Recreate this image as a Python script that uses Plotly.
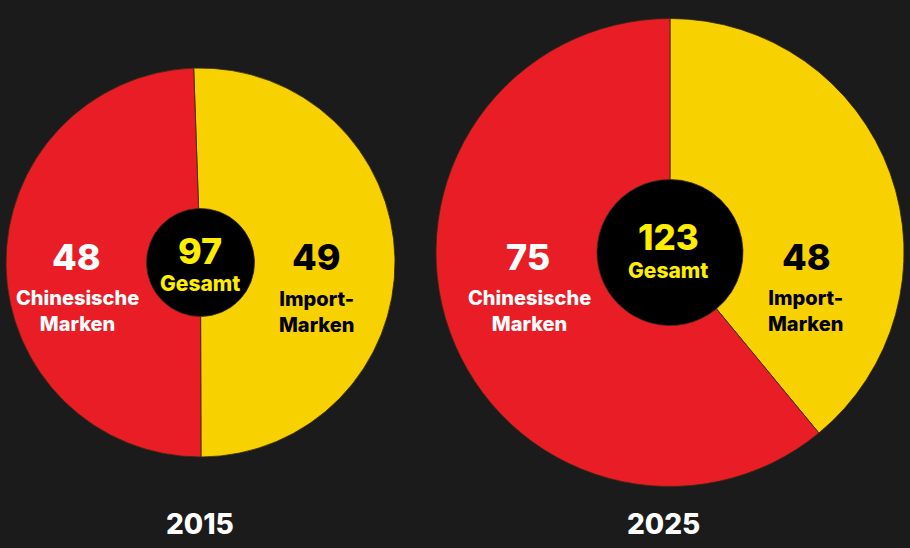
import plotly.graph_objects as go

W, H = 910, 548
BG = "#1b1b1b"
RED = "#E81D25"
YELLOW = "#F8D200"
BRIGHT = "#FFEE00"

# Data
years = ["2015", "2025"]
segment_labels = ["Import-Marken", "Chinesische Marken"]
import_brands = [49, 48]
chinese_brands = [48, 75]
totals = [97, 123]

# Layout geometry (pixels): pie centre, radius, hole radius, start rotation
pies = [
    dict(cx=200.5, cy=262.5, r=194.5, hole=54, rot=-2),
    dict(cx=670, cy=252.5, r=234, hole=73, rot=0),
]

FONT = "Inter"

def px_x(x):
    return x / W

def px_y(y):
    return 1 - y / H

fig = go.Figure()
shapes = []
annotations = []

for i, g in enumerate(pies):
    fig.add_trace(go.Pie(
        labels=segment_labels,
        values=[import_brands[i], chinese_brands[i]],
        sort=False,
        direction="clockwise",
        rotation=g["rot"],
        hole=g["hole"] / g["r"],
        marker=dict(colors=[YELLOW, RED], line=dict(color="#3a2a10", width=0.8)),
        textinfo="none",
        hoverinfo="label+value",
        showlegend=False,
        domain=dict(
            x=[px_x(g["cx"] - g["r"]), px_x(g["cx"] + g["r"])],
            y=[px_y(g["cy"] + g["r"]), px_y(g["cy"] - g["r"])],
        ),
    ))
    shapes.append(dict(
        type="circle", xref="paper", yref="paper", layer="below",
        x0=px_x(g["cx"] - g["hole"]), x1=px_x(g["cx"] + g["hole"]),
        y0=px_y(g["cy"] + g["hole"]), y1=px_y(g["cy"] - g["hole"]),
        fillcolor="#000000", line=dict(width=0),
    ))

def ann(text, x, y, size, color):
    annotations.append(dict(
        text=text, x=px_x(x), y=px_y(y), xref="paper", yref="paper",
        showarrow=False, xanchor="center", yanchor="middle",
        font=dict(family=FONT, size=size, color=color, weight=800),
    ))

# label positions (pixels)
label_pos = [
    dict(cn=(76, 257), cnl=(77, 311), tot=(200, 251), totl=(200, 283), im=(316, 257), iml=(316, 312), ts=36),
    dict(cn=(528, 257), cnl=(529, 311), tot=(668, 237), totl=(668, 270), im=(806, 257), iml=(805, 311), ts=35),
]

for i, p in enumerate(label_pos):
    ann(str(chinese_brands[i]), *p["cn"], 36, "#ffffff")
    ann("Chinesische<br>Marken", *p["cnl"], 20, "#ffffff")
    ann(str(totals[i]), *p["tot"], p["ts"], BRIGHT)
    ann("Gesamt", *p["totl"], 21, BRIGHT)
    ann(str(import_brands[i]), *p["im"], 36, "#000000")
    ann("Import-<br>Marken", *p["iml"], 20, "#000000")

year_pos = [(200, 524), (663, 524)]
for yr, (x, y) in zip(years, year_pos):
    ann(yr, x, y, 28, "#ffffff")

fig.update_layout(
    width=W, height=H,
    margin=dict(l=0, r=0, t=0, b=0),
    paper_bgcolor=BG, plot_bgcolor=BG,
    shapes=shapes, annotations=annotations,
)

fig.write_html("out.html")
